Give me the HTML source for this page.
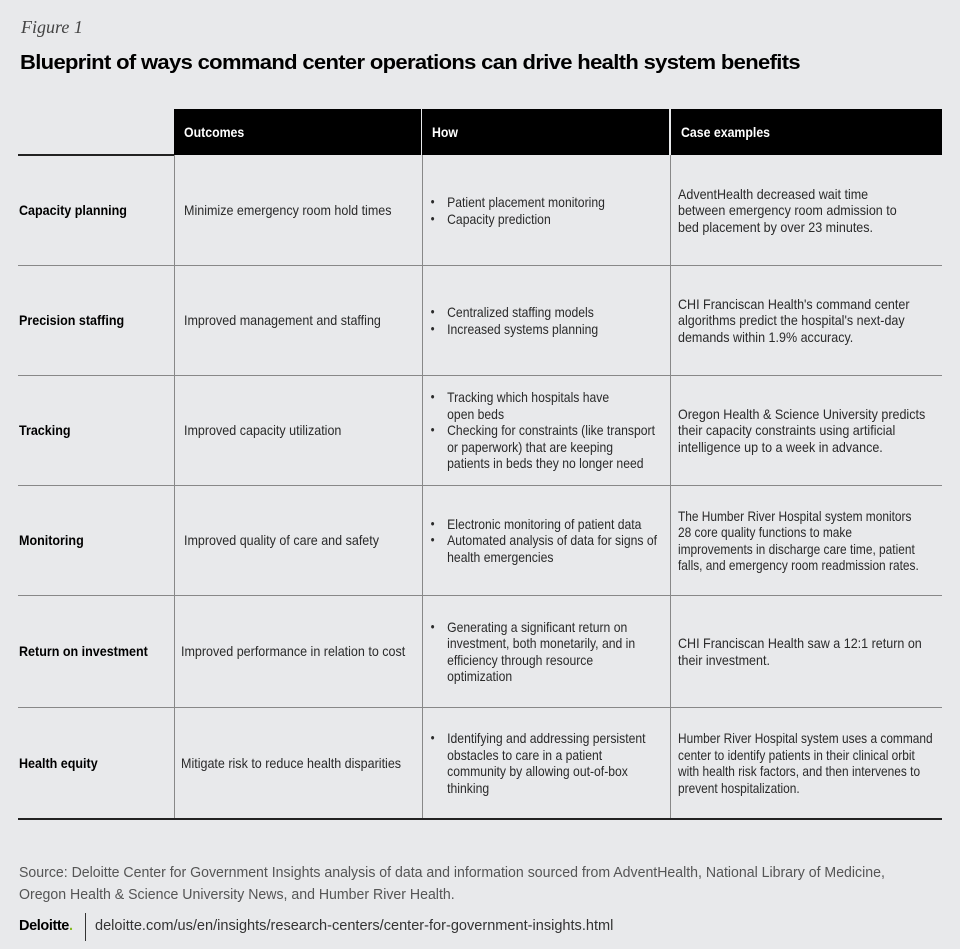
<!DOCTYPE html><html><head><style>
body{margin:0;width:960px;height:949px;background:#e8e9eb;position:relative;overflow:hidden;font-family:"Liberation Sans",sans-serif;color:#2a2a2a}
.a{position:absolute}
.hd{position:absolute;top:109px;height:46px;background:#000;color:#fff;font-weight:bold;font-size:14px;line-height:46px;padding-left:10px;box-sizing:border-box}
.hd span{display:inline-block;transform:scaleX(0.88);transform-origin:left}
.c{position:absolute;display:flex;align-items:center;font-size:14px;line-height:16.5px;box-sizing:border-box}
.c>div{transform:scaleX(0.895);transform-origin:left center;white-space:nowrap}
.c.h>div{transform:scaleX(0.87)}
.c.n>div{transform:scaleX(0.85)}
.hl{position:absolute;height:1px;background:#888;left:18px;width:924px}
.vl{position:absolute;width:1px;background:#888;top:155px;height:663px}
ul{margin:0;padding:0 0 0 22px;list-style:none}
li{position:relative}
li:before{content:"•";position:absolute;left:-19px;font-size:13px}
.b{font-weight:bold;color:#000}
</style></head><body>
<div class="a" style="left:21px;top:17px;font-family:'Liberation Serif',serif;font-style:italic;font-size:18px;color:#444">Figure 1</div>
<div class="a" style="left:20px;top:52px;font-family:'Liberation Sans',sans-serif;font-weight:900;font-size:20px;color:#000;letter-spacing:-0.6px;transform:scaleX(1.10);transform-origin:left;white-space:nowrap">Blueprint of ways command center operations can drive health system benefits</div>
<div class="hd" style="left:174px;width:247px"><span>Outcomes</span></div>
<div class="hd" style="left:422px;width:247px"><span>How</span></div>
<div class="hd" style="left:671px;width:271px"><span>Case examples</span></div>
<div class="a" style="left:18px;top:154px;width:156px;height:2px;background:#222"></div>
<div class="hl" style="top:265px"></div><div class="hl" style="top:375px"></div><div class="hl" style="top:485px"></div><div class="hl" style="top:595px"></div><div class="hl" style="top:707px"></div>
<div class="a" style="left:18px;top:818px;width:924px;height:2px;background:#222"></div>
<div class="vl" style="left:174px"></div><div class="vl" style="left:422px"></div><div class="vl" style="left:670px"></div>

<div class="c b" style="left:19px;top:156px;width:155px;height:109px"><div>Capacity planning</div></div>
<div class="c" style="left:184px;top:156px;width:238px;height:109px"><div>Minimize emergency room hold times</div></div>
<div class="c h" style="left:428px;top:156px;width:242px;height:109px"><div><ul><li>Patient placement monitoring</li><li>Capacity prediction</li></ul></div></div>
<div class="c" style="left:678px;top:156px;width:264px;height:109px"><div>AdventHealth decreased wait time<br>between emergency room admission to<br>bed placement by over 23 minutes.</div></div>

<div class="c b" style="left:19px;top:266px;width:155px;height:109px"><div>Precision staffing</div></div>
<div class="c" style="left:184px;top:266px;width:238px;height:109px"><div>Improved management and staffing</div></div>
<div class="c h" style="left:428px;top:266px;width:242px;height:109px"><div><ul><li>Centralized staffing models</li><li>Increased systems planning</li></ul></div></div>
<div class="c" style="left:678px;top:266px;width:264px;height:109px"><div>CHI Franciscan Health's command center<br>algorithms predict the hospital's next-day<br>demands within 1.9% accuracy.</div></div>

<div class="c b" style="left:19px;top:376px;width:155px;height:109px"><div>Tracking</div></div>
<div class="c" style="left:184px;top:376px;width:238px;height:109px"><div>Improved capacity utilization</div></div>
<div class="c h" style="left:428px;top:376px;width:242px;height:109px"><div><ul><li>Tracking which hospitals have<br>open beds</li><li>Checking for constraints (like transport<br>or paperwork) that are keeping<br>patients in beds they no longer need</li></ul></div></div>
<div class="c" style="left:678px;top:376px;width:264px;height:109px"><div>Oregon Health &amp; Science University predicts<br>their capacity constraints using artificial<br>intelligence up to a week in advance.</div></div>

<div class="c b" style="left:19px;top:486px;width:155px;height:109px"><div>Monitoring</div></div>
<div class="c" style="left:184px;top:486px;width:238px;height:109px"><div>Improved quality of care and safety</div></div>
<div class="c h" style="left:428px;top:486px;width:242px;height:109px"><div><ul><li>Electronic monitoring of patient data</li><li>Automated analysis of data for signs of<br>health emergencies</li></ul></div></div>
<div class="c n" style="left:678px;top:486px;width:264px;height:109px"><div>The Humber River Hospital system monitors<br>28 core quality functions to make<br>improvements in discharge care time, patient<br>falls, and emergency room readmission rates.</div></div>

<div class="c b" style="left:19px;top:596px;width:155px;height:111px"><div>Return on investment</div></div>
<div class="c" style="left:181px;top:596px;width:241px;height:111px"><div>Improved performance in relation to cost</div></div>
<div class="c h" style="left:428px;top:596px;width:242px;height:111px"><div><ul><li>Generating a significant return on<br>investment, both monetarily, and in<br>efficiency through resource<br>optimization</li></ul></div></div>
<div class="c" style="left:678px;top:596px;width:264px;height:111px"><div>CHI Franciscan Health saw a 12:1 return on<br>their investment.</div></div>

<div class="c b" style="left:19px;top:708px;width:155px;height:110px"><div>Health equity</div></div>
<div class="c" style="left:181px;top:708px;width:241px;height:110px"><div>Mitigate risk to reduce health disparities</div></div>
<div class="c h" style="left:428px;top:708px;width:242px;height:110px"><div><ul><li>Identifying and addressing persistent<br>obstacles to care in a patient<br>community by allowing out-of-box<br>thinking</li></ul></div></div>
<div class="c n" style="left:678px;top:708px;width:264px;height:110px"><div>Humber River Hospital system uses a command<br>center to identify patients in their clinical orbit<br>with health risk factors, and then intervenes to<br>prevent hospitalization.</div></div>

<div class="a" style="left:19px;top:862px;font-size:14.5px;line-height:22px;color:#555;white-space:nowrap;transform:scaleX(0.974);transform-origin:left">Source: Deloitte Center for Government Insights analysis of data and information sourced from AdventHealth, National Library of Medicine,<br>Oregon Health &amp; Science University News, and Humber River Health.</div>
<div class="a" style="left:19px;top:918px;font-family:'Liberation Sans',sans-serif;font-weight:bold;font-size:14.5px;color:#000;letter-spacing:-0.4px">Deloitte<span style="color:#86bc25">.</span></div>
<div class="a" style="left:85px;top:913px;width:1px;height:28px;background:#333"></div>
<div class="a" style="left:95px;top:917px;font-size:15px;color:#333;white-space:nowrap;transform:scaleX(0.97);transform-origin:left">deloitte.com/us/en/insights/research-centers/center-for-government-insights.html</div>
</body></html>
